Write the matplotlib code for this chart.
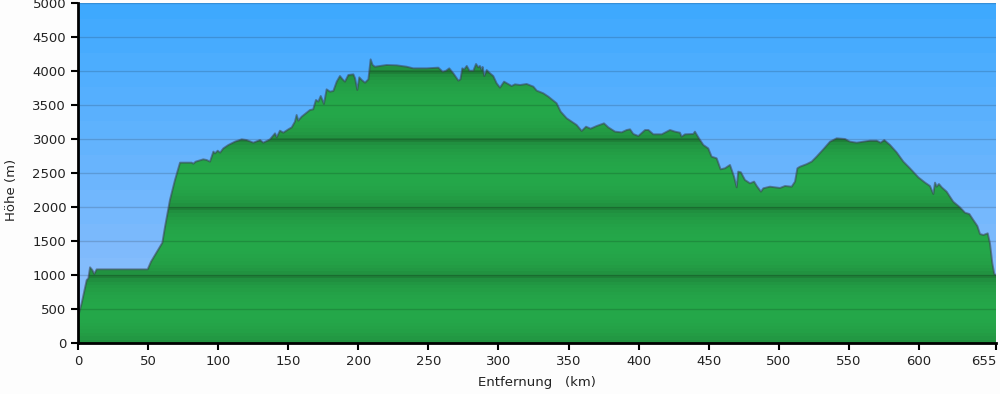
import numpy as np
import matplotlib
matplotlib.use('Agg')
import matplotlib.pyplot as plt

# Elevation profile (km, m)
dist = [0, 0.7, 2.6, 6.2, 7.4, 8.6, 10.2, 11.6, 13.3, 49.7, 52.1, 60.2, 62.1, 65.6,
        69.2, 72.8, 81.1, 82.3, 84.0, 89.4, 91.8, 94.2, 96.6, 97.8, 99.7, 101.4,
        103.7, 107.3, 112.0, 116.8, 120.3, 125.1, 129.9, 132.2, 134.6, 137.0,
        140.6, 141.8, 144.1, 146.5, 150.1, 152.5, 154.8, 156.0, 157.2, 159.6,
        162.0, 165.5, 167.8, 169.8, 171.5, 173.2, 175.5, 177.4, 179.8, 182.2,
        184.6, 186.9, 188.8, 190.5, 192.9, 196.5, 197.7, 199.3, 200.7, 202.4,
        204.8, 207.2, 208.8, 210.2, 211.9, 220.2, 227.4, 234.5, 239.2, 248.8,
        257.1, 260.2, 262.6, 264.9, 267.8, 271.4, 272.9, 274.2, 275.6, 277.4,
        279.3, 282.1, 284.0, 285.6, 286.8, 288.0, 288.7, 289.9, 291.6, 294.0,
        296.3, 298.7, 301.1, 304.0, 306.9, 309.4, 311.8, 315.4, 320.1, 324.9,
        327.3, 332.0, 335.6, 339.1, 341.5, 344.4, 348.7, 352.3, 355.8, 359.4,
        362.5, 365.7, 370.1, 375.3, 378.4, 383.2, 387.9, 391.5, 393.9, 396.2,
        399.8, 404.6, 407.0, 410.5, 416.5, 422.4, 426.0, 429.5, 430.7, 433.1,
        439.0, 440.2, 442.6, 446.2, 449.7, 452.1, 455.7, 458.5, 461.6, 465.2,
        468.1, 470.0, 471.1, 473.0, 475.9, 479.5, 482.4, 484.3, 487.3, 489.0,
        493.7, 500.9, 504.5, 509.2, 511.6, 513.3, 515.2, 519.9, 523.5, 527.0,
        531.8, 536.6, 541.3, 547.3, 550.8, 555.6, 560.3, 565.1, 569.9, 572.7,
        575.3, 579.4, 584.1, 588.9, 593.6, 599.6, 604.4, 607.9, 610.3, 611.5,
        612.7, 614.3, 616.3, 619.8, 624.5, 629.3, 632.9, 636.0, 638.8, 641.7,
        643.6, 646.0, 649.1, 650.7, 652.4, 653.8, 655.0]
elev = [420, 437, 583, 926, 951, 1113, 1074, 1015, 1083, 1083, 1196, 1475, 1711, 2103,
        2397, 2652, 2652, 2637, 2667, 2701, 2691, 2667, 2814, 2789, 2828, 2799,
        2862, 2912, 2961, 2995, 2985, 2946, 2985, 2946, 2970, 2995,
        3083, 3025, 3122, 3093, 3142, 3171, 3255, 3353, 3270, 3328,
        3368, 3426, 3436, 3574, 3549, 3632, 3515, 3730, 3696, 3706,
        3843, 3926, 3877, 3843, 3941, 3951, 3892, 3721, 3907, 3868,
        3828, 3877, 4171, 4088, 4063, 4088, 4083, 4063, 4039, 4039,
        4049, 3990, 4004, 4039, 3966, 3858, 3877, 4039, 4024, 4074,
        4004, 4004, 4103, 4054, 4074, 4014, 4060, 3926, 4014, 3966,
        3926, 3819, 3755, 3843, 3809, 3779, 3804, 3794, 3809, 3770,
        3711, 3672, 3623, 3564, 3525, 3402, 3304, 3255, 3206, 3118,
        3181, 3152, 3191, 3230, 3171, 3108, 3098, 3132, 3142, 3074,
        3044, 3132, 3132, 3069, 3069, 3132, 3108, 3093, 3034, 3069,
        3074, 3108, 3025, 2912, 2862, 2740, 2716, 2554, 2569, 2618,
        2446, 2289, 2520, 2510, 2397, 2348, 2373, 2309, 2225, 2275,
        2299, 2280, 2309, 2299, 2373, 2569, 2593, 2630, 2667, 2740,
        2848, 2961, 3010, 3000, 2961, 2946, 2961, 2975, 2975, 2946,
        2985, 2912, 2804, 2667, 2569, 2436, 2358, 2309, 2191, 2358,
        2299, 2338, 2289, 2225, 2078, 1995, 1916, 1897, 1809, 1721,
        1603, 1588, 1613, 1466, 1172, 1015, 1000]

y_ticks = list(range(0, 5001, 500))
x_ticks = list(range(0, 601, 50)) + [655]
x_max = 655
y_max = 5000

fig = plt.figure(figsize=(10, 3.94), dpi=100, facecolor='#fdfdfd')
ax = fig.add_axes([0.078, 0.1294, 0.918, 0.863])
ax.set_xlim(0, x_max)
ax.set_ylim(0, y_max)

# sky gradient (light at bottom, deep blue at top)
h = np.linspace(0, y_max, 400)
hq = np.floor(h / 250) * 250 / y_max
bottom = np.array([150, 193, 252]) / 255
top = np.array([58, 168, 255]) / 255
sky = bottom[None, :] * (1 - hq[:, None]) + top[None, :] * hq[:, None]
ax.imshow(sky[:, None, :], extent=[0, x_max, 0, y_max], origin='lower',
          aspect='auto', zorder=0, interpolation='nearest')

# banded green ground, clipped to the profile
hg = np.arange(0, y_max, 10.0)
t = (np.floor(hg / 50) * 50 % 1000) / 1000
b = np.sin(np.pi * np.clip(t + 0.06, 0, 1)) ** 0.45
dark = np.array([30, 128, 56]) / 255
light = np.array([37, 168, 74]) / 255
ground = dark[None, :] * (1 - b[:, None]) + light[None, :] * b[:, None]
poly = ax.fill_between(dist, elev, 0, color='none', lw=0)
im = ax.imshow(ground[:, None, :], extent=[0, x_max, 0, y_max], origin='lower',
               aspect='auto', zorder=1, interpolation='nearest')
paths = poly.get_paths()
im.set_clip_path(paths[0], transform=ax.transData)

ax.plot(dist, elev, color='#3a4050', alpha=0.55, lw=1.4, zorder=3)

for yt in y_ticks[1:]:
    ax.axhline(yt, color='black', alpha=0.15, lw=1, zorder=2)

for s in ['top', 'right']:
    ax.spines[s].set_visible(False)
for s in ['left', 'bottom']:
    ax.spines[s].set_linewidth(2)
    ax.spines[s].set_zorder(5)

ax.set_yticks(y_ticks)
ax.set_xticks(x_ticks)
ax.tick_params(direction='out', length=5, width=1.5, labelsize=9.5, colors='black',
               labelcolor='#222222')
ax.get_xticklabels()[-1].set_horizontalalignment('right')
ax.set_xlabel('Entfernung   (km)', fontsize=9.5, color='#222222', labelpad=6)
ax.set_ylabel('Höhe (m)', fontsize=9.5, color='#222222')
ax.yaxis.set_label_coords(-0.065, 0.45)

fig.savefig('out.png', dpi=100, facecolor=fig.get_facecolor())
